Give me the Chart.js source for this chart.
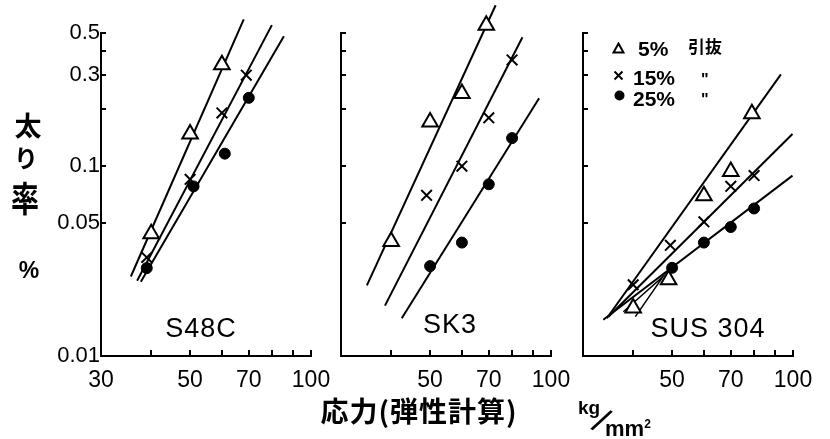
<!DOCTYPE html>
<html>
<head>
<meta charset="utf-8">
<script src="https://cdn.jsdelivr.net/npm/chart.js@4.4.1/dist/chart.umd.min.js"></script>
<style>
  html, body { margin: 0; padding: 0; background: #fff; }
  #wrap { position: relative; width: 830px; height: 439px; overflow: hidden; background: #fff; }
  #wrap canvas { position: absolute; left: 0; top: 0; }
  .t { position: absolute; color: #000; white-space: nowrap; line-height: 1; }
  .jp { font-family: "Noto Sans CJK JP", sans-serif; font-weight: 700; }
  .lat { font-family: "Liberation Sans", Arial, sans-serif; }
  .c { transform: translate(-50%, -50%); }
</style>
</head>
<body>
<div id="wrap">
  <canvas id="p1" width="830" height="439"></canvas>
  <canvas id="p2" width="830" height="439"></canvas>
  <canvas id="p3" width="830" height="439"></canvas>

  <!-- y axis title -->
  <div class="t jp c" style="left:28px;top:124px;font-size:27px;">太</div>
  <div class="t jp c" style="left:26px;top:157px;font-size:24px;">り</div>
  <div class="t jp c" style="left:25px;top:197px;font-size:28px;transform:translate(-50%,-50%) scaleY(1.25);">率</div>
  <div class="t lat c" style="left:29px;top:270px;font-size:23px;font-weight:700;">%</div>

  <!-- material names -->
  <div class="t lat c" style="left:201px;top:328px;font-size:27px;letter-spacing:1px;">S48C</div>
  <div class="t lat c" style="left:450px;top:324px;font-size:27px;letter-spacing:1px;">SK3</div>
  <div class="t lat c" style="left:708px;top:328px;font-size:27px;letter-spacing:1px;">SUS 304</div>

  <!-- legend -->
  <svg class="t" style="left:612px;top:42px;" width="13" height="12"><polygon points="6.5,1.5 11.5,10.5 1.5,10.5" fill="#fff" stroke="#000" stroke-width="2"/></svg>
  <div class="t lat" style="left:638px;top:38px;font-size:21px;font-weight:700;">5%</div>
  <div class="t jp" style="left:688px;top:37px;font-size:17px;">引抜</div>
  <svg class="t" style="left:613px;top:70px;" width="11" height="11"><path d="M1.5,1.5 L9.5,9.5 M9.5,1.5 L1.5,9.5" stroke="#000" stroke-width="2"/></svg>
  <div class="t lat" style="left:633px;top:67px;font-size:21px;font-weight:700;">15%</div>
  <div class="t lat" style="left:701px;top:72px;font-size:16px;font-weight:700;">"</div>
  <svg class="t" style="left:614px;top:90px;" width="11" height="11"><circle cx="5.5" cy="5.5" r="5" fill="#000"/></svg>
  <div class="t lat" style="left:633px;top:88px;font-size:21px;font-weight:700;">25%</div>
  <div class="t lat" style="left:701px;top:92px;font-size:16px;font-weight:700;">"</div>

  <!-- x axis title and unit -->
  <div class="t jp c" style="left:419px;top:410px;font-size:28px;letter-spacing:1px;">応力(弾性計算)</div>
  <div class="t lat" style="left:578px;top:398px;font-size:19px;font-weight:700;">kg</div>
  <div class="t lat c" style="left:601px;top:421px;font-size:36px;transform:translate(-50%,-50%) rotate(32deg);">/</div>
  <div class="t lat" style="left:605px;top:418px;font-size:22px;font-weight:700;">mm<sup style="font-size:12px;vertical-align:8px;">2</sup></div>
</div>

<script>
// axis ticks and labels (log scales)
const stressTicks = [30, 40, 50, 60, 70, 80, 90, 100];
const stressLabels = [30, 50, 70, 100];
const rateTicks = [0.01, 0.05, 0.1, 0.2, 0.3, 0.4, 0.5];
const rateLabels = [0.01, 0.05, 0.1, 0.3, 0.5];

// S48C: measured points (stress kg/mm2, thinning rate %)
const s48cStress5  = [40, 50, 60];
const s48cRate5    = [0.044, 0.147, 0.34];
const s48cStress15 = [39, 50, 60, 69];
const s48cRate15   = [0.033, 0.085, 0.19, 0.30];
const s48cStress25 = [39, 51, 61, 70];
const s48cRate25   = [0.029, 0.078, 0.116, 0.228];
// S48C: fitted lines (start / end)
const s48cFitStress5  = [35.6, 68.0];
const s48cFitRate5    = [0.0262, 0.59];
const s48cFitStress15 = [36.9, 79.9];
const s48cFitRate15   = [0.0249, 0.55];
const s48cFitStress25 = [37.7, 85.6];
const s48cFitRate25   = [0.0246, 0.48];

// SK3
const sk3Stress5  = [40, 50, 60, 69];
const sk3Rate5    = [0.040, 0.17, 0.24, 0.55];
const sk3Stress15 = [49, 60, 70, 80];
const sk3Rate15   = [0.070, 0.0996, 0.179, 0.361];
const sk3Stress25 = [50, 60, 70, 80];
const sk3Rate25   = [0.0297, 0.0395, 0.080, 0.140];
const sk3FitStress5  = [34.8, 72.8];
const sk3FitRate5    = [0.0235, 0.70];
const sk3FitStress15 = [38.6, 84.9];
const sk3FitRate15   = [0.0184, 0.475];
const sk3FitStress25 = [42.5, 93.4];
const sk3FitRate25   = [0.0158, 0.227];

// SUS 304
const susStress5  = [40, 49, 60, 70, 79];
const susRate5    = [0.0179, 0.0252, 0.0697, 0.0933, 0.188];
const susStress15 = [40, 49.5, 60, 70, 80];
const susRate15   = [0.0237, 0.0382, 0.0508, 0.0781, 0.0889];
const susStress25 = [50, 60, 70, 80];
const susRate25   = [0.0291, 0.0395, 0.0477, 0.0597];
const susFitStress5  = [34.4, 93.3];
const susFitRate5    = [0.0158, 0.303];
const susFitStress15 = [34.7, 99.7];
const susFitRate15   = [0.0161, 0.147];
const susFitStress25 = [33.7, 99.7];
const susFitRate25   = [0.0155, 0.0889];
// pen stroke around the lowest 5% point
const susStrokeStress = [37.8, 47.5, 40.5];
const susStrokeRate   = [0.0171, 0.0262, 0.0161];

const pts = (xs, ys) => xs.map((x, i) => ({ x: x, y: ys[i] }));

function markerSet(xs, ys, style) {
  const base = { type: 'scatter', data: pts(xs, ys), showLine: false, clip: false,
                 borderColor: '#000', order: 0 };
  if (style === 'tri') return Object.assign(base, { pointStyle: 'triangle', pointRadius: 9,
                 borderWidth: 2, backgroundColor: '#fff' });
  if (style === 'x') return Object.assign(base, { pointStyle: 'crossRot', pointRadius: 7.5,
                 borderWidth: 2, backgroundColor: '#000' });
  return Object.assign(base, { pointStyle: 'circle', pointRadius: 5.5, borderWidth: 1,
                 backgroundColor: '#000' });
}
function lineSet(xs, ys, w) {
  return { type: 'scatter', data: pts(xs, ys), showLine: true, clip: false, pointRadius: 0,
           borderColor: '#000', borderWidth: w || 2, fill: false, tension: 0, order: 1 };
}

// short inward tick marks on both axes
const inwardTicks = {
  id: 'inwardTicks',
  afterDraw(chart) {
    const { ctx, chartArea: a } = chart;
    const xs = chart.scales.x, ys = chart.scales.y;
    ctx.save();
    ctx.strokeStyle = '#000';
    ctx.lineWidth = 2;
    ctx.beginPath();
    stressTicks.forEach(v => {
      const p = Math.round(xs.getPixelForValue(v));
      ctx.moveTo(p, a.bottom); ctx.lineTo(p, a.bottom - 6);
    });
    rateTicks.forEach(v => {
      const p = Math.round(ys.getPixelForValue(v));
      ctx.moveTo(a.left, p); ctx.lineTo(a.left + 5, p);
    });
    ctx.stroke();
    ctx.restore();
  }
};

function makePanel(id, left, datasets, showY, showX30) {
  const width = 210;
  const yAxisW = showY ? 60 : 0;
  new Chart(document.getElementById(id), {
    type: 'scatter',
    data: { datasets: datasets },
    options: {
      responsive: false,
      animation: false,
      events: [],
      layout: { padding: { left: left - yAxisW, right: 830 - left - width, top: 33, bottom: 43 } },
      plugins: { legend: { display: false }, tooltip: { enabled: false } },
      scales: {
        x: {
          type: 'logarithmic', min: 30, max: 100,
          afterBuildTicks: s => { s.ticks = stressTicks.map(v => ({ value: v })); },
          afterFit: s => { s.height = 40; },
          grid: { display: false, drawTicks: false },
          border: { display: true, color: '#000', width: 2 },
          ticks: {
            autoSkip: false, maxRotation: 0, padding: 11, color: '#000',
            font: { family: 'Liberation Sans', size: 23 },
            callback: v => (stressLabels.includes(v) && (showX30 || v !== 30)) ? String(v) : ''
          }
        },
        y: {
          type: 'logarithmic', min: 0.01, max: 0.5,
          afterBuildTicks: s => { s.ticks = rateTicks.map(v => ({ value: v })); },
          afterFit: s => { s.width = yAxisW; },
          grid: { display: false, drawTicks: false },
          border: { display: true, color: '#000', width: 2 },
          ticks: {
            display: showY, autoSkip: false, padding: 1, color: '#000',
            font: { family: 'Liberation Sans', size: 22 },
            callback: v => rateLabels.includes(v) ? String(v) : ''
          }
        }
      }
    },
    plugins: [inwardTicks]
  });
}

makePanel('p1', 101, [
  lineSet(s48cFitStress5, s48cFitRate5),
  lineSet(s48cFitStress15, s48cFitRate15),
  lineSet(s48cFitStress25, s48cFitRate25),
  markerSet(s48cStress5, s48cRate5, 'tri'),
  markerSet(s48cStress15, s48cRate15, 'x'),
  markerSet(s48cStress25, s48cRate25, 'dot')
], true, true);

makePanel('p2', 341, [
  lineSet(sk3FitStress5, sk3FitRate5),
  lineSet(sk3FitStress15, sk3FitRate15),
  lineSet(sk3FitStress25, sk3FitRate25),
  markerSet(sk3Stress5, sk3Rate5, 'tri'),
  markerSet(sk3Stress15, sk3Rate15, 'x'),
  markerSet(sk3Stress25, sk3Rate25, 'dot')
], false, false);

makePanel('p3', 583, [
  lineSet(susFitStress5, susFitRate5),
  lineSet(susFitStress15, susFitRate15),
  lineSet(susFitStress25, susFitRate25),
  lineSet(susStrokeStress, susStrokeRate, 1.5),
  markerSet(susStress5, susRate5, 'tri'),
  markerSet(susStress15, susRate15, 'x'),
  markerSet(susStress25, susRate25, 'dot')
], false, false);
</script>
</body>
</html>
